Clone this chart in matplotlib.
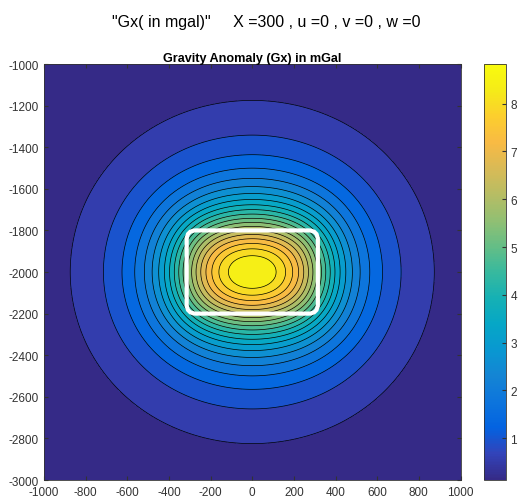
import numpy as np
import matplotlib
matplotlib.use('Agg')
import matplotlib.pyplot as plt
from matplotlib.colors import LinearSegmentedColormap, Normalize
from matplotlib.cm import ScalarMappable
from matplotlib.patches import FancyBboxPatch

plt.rcParams['font.family'] = ['Liberation Sans', 'DejaVu Sans']
plt.rcParams['axes.unicode_minus'] = False

# survey grid (m)
grid_x = [-1000, 1000]
grid_y = [-3000, -1000]
npts = 201

# buried prism (m), outline drawn in white
body_x = [-315, 315]
body_y = [-2200, -1800]
body_z = [150, 450]
peak_mgal = 8.83
nlev = 20

xticks = list(range(-1000, 1001, 200))
yticks = list(range(-3000, -999, 200))
cticks = [1, 2, 3, 4, 5, 6, 7, 8]

# parula-like colormap
parula_pts = [
    (0.2081, 0.1663, 0.5292), (0.1959, 0.2645, 0.7279), (0.0117, 0.3875, 0.8820),
    (0.0498, 0.4586, 0.8641), (0.0793, 0.5200, 0.8312), (0.0343, 0.5966, 0.8199),
    (0.0228, 0.6535, 0.7768), (0.0843, 0.6928, 0.7062), (0.2178, 0.7250, 0.6193),
    (0.3953, 0.7459, 0.5244), (0.5709, 0.7485, 0.4494), (0.7184, 0.7411, 0.3905),
    (0.8507, 0.7299, 0.3360), (0.9739, 0.7314, 0.2666), (0.9880, 0.8066, 0.1794),
    (0.9599, 0.9218, 0.0948), (0.9763, 0.9831, 0.0538)]
parula = LinearSegmentedColormap.from_list('parula', parula_pts, N=256)


def prism_gz(xo, yo, bx, by, bz):
    g = np.zeros_like(xo)
    for i, x1 in enumerate(bx):
        for j, y1 in enumerate(by):
            for k, z1 in enumerate(bz):
                dx = x1 - xo
                dy = y1 - yo
                r = np.sqrt(dx**2 + dy**2 + z1**2)
                sgn = (-1) ** (i + j + k)
                g += sgn * (dx * np.log(dy + r) + dy * np.log(dx + r)
                            - z1 * np.arctan2(dx * dy, z1 * r))
    return np.abs(g)


X, Y = np.meshgrid(np.linspace(grid_x[0], grid_x[1], npts),
                   np.linspace(grid_y[0], grid_y[1], npts))
G = prism_gz(X, Y, body_x, body_y, body_z)
G = G / G.max() * peak_mgal

lev = np.linspace(G.min(), G.max(), nlev + 2)
norm = Normalize(G.min(), G.max())
fills = [parula(norm(v)) for v in lev[:-1]]

fig = plt.figure(figsize=(5.19, 5.02), dpi=100)
ax = fig.add_axes([0.0848, 0.0418, 0.8025, 0.8287])
ax.contourf(X, Y, G, levels=lev, colors=fills)
ax.contour(X, Y, G, levels=lev[1:-1], colors='k', linewidths=0.5)

rect = FancyBboxPatch((body_x[0], body_y[0]), body_x[1] - body_x[0], body_y[1] - body_y[0],
                      boxstyle='round,pad=0,rounding_size=45',
                      fc='none', ec='white', lw=3, zorder=5)
ax.add_patch(rect)

ax.set_xlim(grid_x)
ax.set_ylim(grid_y)
ax.set_xticks(xticks)
ax.set_yticks(yticks)
ax.tick_params(direction='in', length=3, labelsize=8.5, colors='#333333',
               top=True, right=True, pad=4)
for s in ax.spines.values():
    s.set_color('#333333')
    s.set_linewidth(0.6)
ax.set_title('Gravity Anomaly (Gx) in mGal', fontsize=9.1, fontweight='bold', pad=2)

cax = fig.add_axes([0.9326, 0.0418, 0.0424, 0.8287])
cb = fig.colorbar(ScalarMappable(norm=norm, cmap=parula), cax=cax, ticks=cticks)
cb.outline.set_linewidth(0.6)
cb.outline.set_edgecolor('#333333')
cax.tick_params(direction='in', length=3, labelsize=8.5, colors='#333333', pad=3)

fig.text(0.513, 0.956, '"Gx( in mgal)"     X =300 , u =0 , v =0 , w =0',
         ha='center', va='center', fontsize=11.5)

fig.savefig('out.png', dpi=100)
